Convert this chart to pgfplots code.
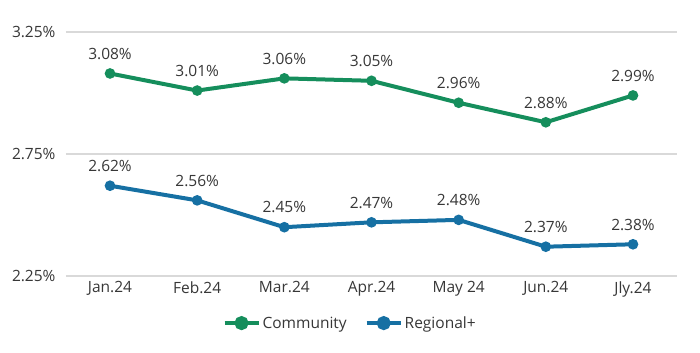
\documentclass[border=0pt]{standalone}
\usepackage{fontspec}
\setmainfont{Open Sans}
\usepackage{pgfplots}
\pgfplotsset{compat=1.18}
\definecolor{cgreen}{RGB}{21,142,92}
\definecolor{cblue}{RGB}{22,112,163}
\definecolor{ctext}{RGB}{55,55,55}
\definecolor{cgrid}{RGB}{217,217,217}
\begin{document}
\begin{tikzpicture}
\begin{axis}[
  at={(0,0)}, anchor=south west,
  scale only axis, width=611bp, height=244bp,
  xmin=-0.505, xmax=6.505, ymin=2.25, ymax=3.25,
  /pgf/number format/assume math mode=true,
  xtick={0,...,6},
  xticklabels={Jan.24,Feb.24,Mar.24,Apr.24,May 24,Jun.24,Jly.24},
  ytick={2.25,2.75,3.25},
  yticklabels={2.25\%,2.75\%,3.25\%},
  ymajorgrids, grid style={cgrid, line width=1.3bp},
  axis line style={draw=none}, tick style={draw=none},
  font=\fontsize{15.5bp}{18bp}\selectfont,
  ticklabel style={text=ctext},
  yticklabel style={xshift=-7bp},
  xticklabel style={yshift=-2bp},
  clip=false,
  nodes near coords={\pgfmathprintnumber[fixed,precision=2,fixed zerofill]{\pgfplotspointmeta}\%},
  every node near coord/.append style={text=ctext, anchor=south, inner sep=0pt, yshift=12bp, font=\fontsize{15.5bp}{18bp}\selectfont},
  legend style={at={(0.465,-0.193)}, anchor=center, draw=none, legend columns=2, font=\fontsize{15.5bp}{18bp}\selectfont, text=ctext, /tikz/every even column/.append style={column sep=16bp}, inner sep=0pt},
  legend image code/.code={\draw[#1, line width=4bp] (0bp,0bp) -- (34bp,0bp); \fill[#1] (17bp,0bp) circle (5bp);},
]
\addplot[cgreen, line width=4bp, mark=*, mark size=3.2bp, mark options={solid}] coordinates {
(0,3.08) (1,3.01) (2,3.06) (3,3.05) (4,2.96) (5,2.88) (6,2.99)};
\addlegendentry{Community}
\addplot[cblue, line width=4bp, mark=*, mark size=3.2bp, mark options={solid}] coordinates {
(0,2.62) (1,2.56) (2,2.45) (3,2.47) (4,2.48) (5,2.37) (6,2.38)};
\addlegendentry{Regional+}
\end{axis}
\useasboundingbox (-66bp,-77bp) rectangle (634bp,276bp);
\end{tikzpicture}
\end{document}
